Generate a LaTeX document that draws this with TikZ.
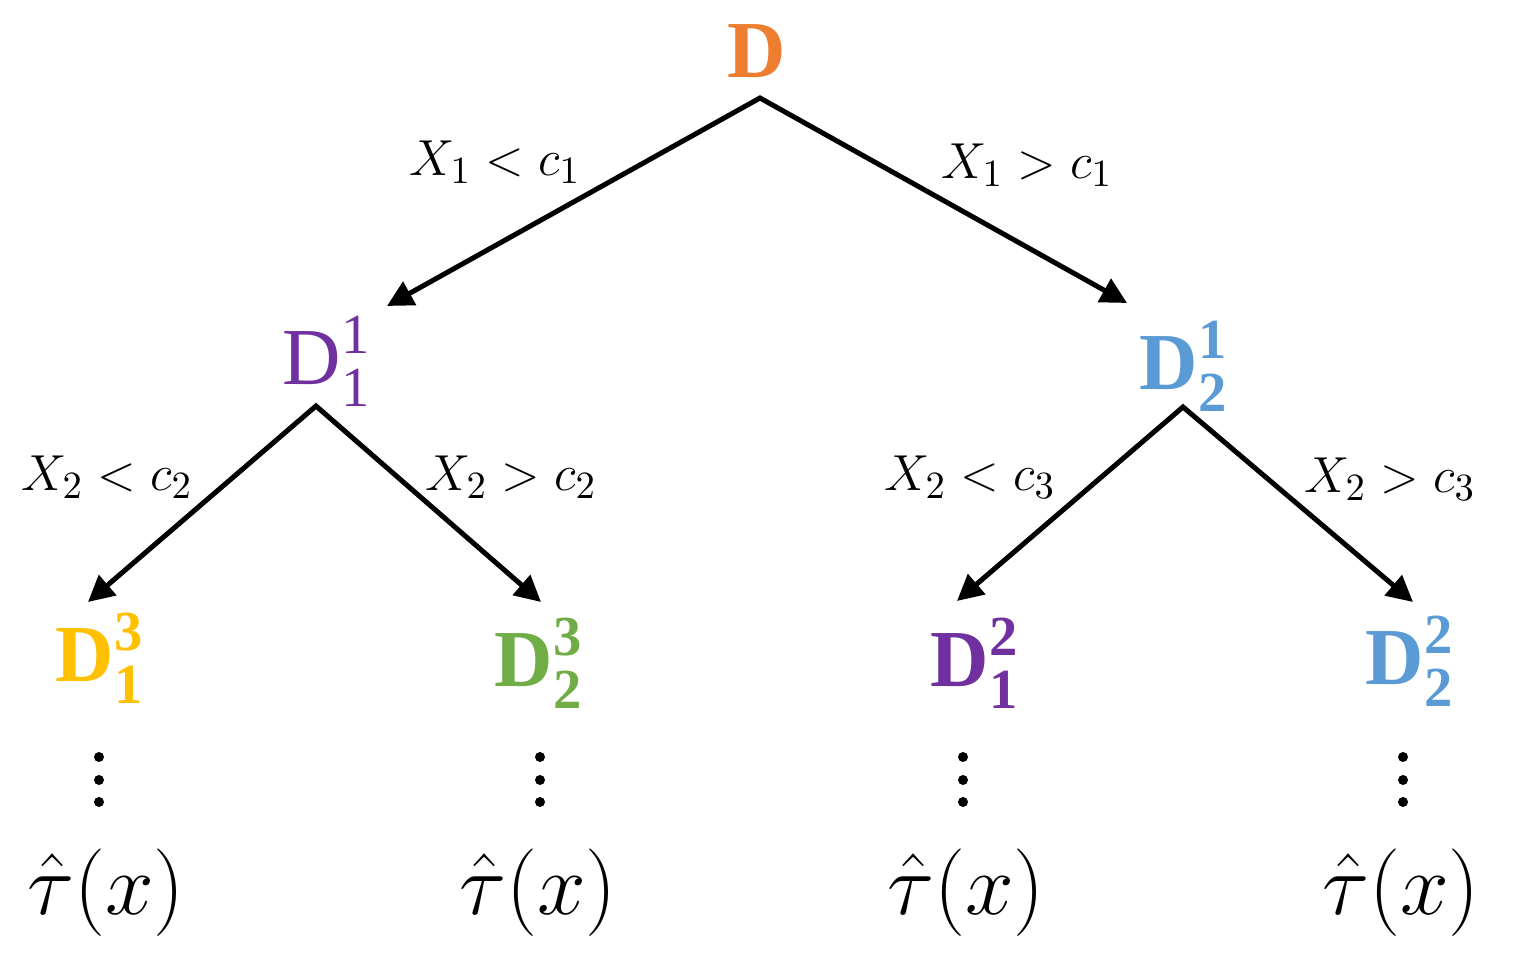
\documentclass[tikz,border=0pt]{standalone}
\usepackage{amsmath}
\usepackage{fontspec}
\newfontfamily\dfont{Liberation Serif}
\usetikzlibrary{arrows.meta}
\definecolor{corange}{HTML}{ED7D31}
\definecolor{cpurple}{HTML}{7030A0}
\definecolor{cblue}{HTML}{5B9BD5}
\definecolor{cyellow}{HTML}{FFC000}
\definecolor{cgreen}{HTML}{70AD47}
\tikzset{
  dn/.style={inner sep=0pt, anchor=base, font=\fontsize{23}{27}\selectfont\dfont},
  lab/.style={inner sep=0pt, anchor=base, font=\fontsize{15}{18}\selectfont},
  tau/.style={inner sep=0pt, anchor=base, font=\fontsize{24}{28}\selectfont},
  vdot/.style={circle, fill=black, inner sep=0pt, minimum size=0.1cm},
  conn/.style={line width=0.05cm, line join=miter, {Triangle[length=0.26cm,width=0.26cm]}-{Triangle[length=0.26cm,width=0.26cm]}}
}
\begin{document}
\begin{tikzpicture}[x=0.01cm,y=-0.01cm]
\useasboundingbox (0,0) rectangle (1521,971);
% nodes
\node[dn, text=corange] (D) at (757,78) {\bfseries D};
\node[dn, text=cpurple] (D11) at (327,385) {\mdseries$\text{D}^{\text{1}}_{\text{1}}$};
\node[dn, text=cblue] (D21) at (1184,390) {\bfseries$\text{D}^{\text{1}}_{\text{2}}$};
\node[dn, text=cyellow] (D13) at (100,682) {\bfseries$\text{D}^{\text{3}}_{\text{1}}$};
\node[dn, text=cgreen] (D23) at (539,687) {\bfseries$\text{D}^{\text{3}}_{\text{2}}$};
\node[dn, text=cpurple] (D12) at (975,687) {\bfseries$\text{D}^{\text{2}}_{\text{1}}$};
\node[dn, text=cblue] (D22) at (1410,685) {\bfseries$\text{D}^{\text{2}}_{\text{2}}$};
% connector points
\coordinate (aD) at (760,98);
\coordinate (tD11) at (387,306);
\coordinate (tD21) at (1127,303);
\coordinate (aD11) at (316,406);
\coordinate (tD13) at (88,602);
\coordinate (tD23) at (541,602);
\coordinate (aD21) at (1183,407);
\coordinate (tD12) at (957,601);
\coordinate (tD22) at (1413,602);
\draw[conn] (tD11) -- (aD) -- (tD21);
\draw[conn] (tD13) -- (aD11) -- (tD23);
\draw[conn] (tD12) -- (aD21) -- (tD22);
% labels
\node[lab] (l1) at (495,176) {$X_1 < c_1$};
\node[lab] (l2) at (1027,179) {$X_1 > c_1$};
\node[lab] (l3) at (107,491) {$X_2 < c_2$};
\node[lab] (l4) at (511,491) {$X_2 > c_2$};
\node[lab] (l5) at (970,491) {$X_2 < c_3$};
\node[lab] (l6) at (1390,493) {$X_2 > c_3$};
% vertical dots
\foreach \x/\n in {99/a,540/b,963/c,1403/d}{
  \node[vdot] (v\n1) at (\x,757) {};
  \node[vdot] (v\n2) at (\x,780) {};
  \node[vdot] (v\n3) at (\x,802) {};
}
% leaves
\node[tau] (t1) at (106,915) {$\hat{\tau}(x)$};
\node[tau] (t2) at (538,915) {$\hat{\tau}(x)$};
\node[tau] (t3) at (966,915) {$\hat{\tau}(x)$};
\node[tau] (t4) at (1401,915) {$\hat{\tau}(x)$};
\end{tikzpicture}
\end{document}
